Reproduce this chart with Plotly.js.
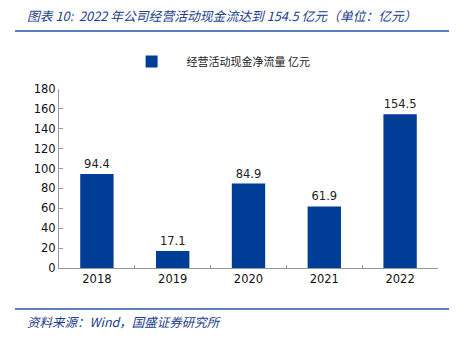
<!DOCTYPE html>
<html><head><meta charset="utf-8">
<script src="https://cdn.plot.ly/plotly-3.0.1.min.js"></script>
<style>html,body{margin:0;padding:0;background:#fff}</style>
</head><body>
<div id="chart" style="width:456px;height:338px"></div>
<script>
var years = ['2018','2019','2020','2021','2022'];
var cashFlow = [94.4, 17.1, 84.9, 61.9, 154.5];
var yTicks = [0,20,40,60,80,100,120,140,160,180];
var seriesName = '经营活动现金净流量 亿元';
var titleText = '图表 10:  2022 年公司经营活动现金流达到 154.5 亿元（单位：亿元）';
var sourceText = '资料来源：Wind，国盛证券研究所';

var blue = '#003D97';
var deco = '#2155A6';
var data = [{
  type: 'bar', x: years, y: cashFlow, name: seriesName,
  marker: {color: blue},
  text: cashFlow.map(function(v){return v.toFixed(1);}),
  textposition: 'outside', cliponaxis: false,
  textfont: {family: 'DejaVu Sans, Verdana, sans-serif', size: 11.5, color: '#222'}
}];
var layout = {
  width: 456, height: 338,
  margin: {l: 59, r: 18, t: 89, b: 70},
  paper_bgcolor: '#fff', plot_bgcolor: '#fff',
  showlegend: true,
  legend: {orientation: 'h', x: 0.152, y: 1.153, xanchor: 'left', yanchor: 'middle',
    font: {family: 'Noto Sans CJK SC', size: 11, color: '#222'}, itemwidth: 60},
  bargap: 0.56,
  xaxis: {
    type: 'category', showline: true, linecolor: '#999', linewidth: 1,
    ticks: 'inside', tickson: 'boundaries', ticklen: 3, tickcolor: '#999',
    tickfont: {family: 'DejaVu Sans, Verdana, sans-serif', size: 11.5, color: '#111'},
    showgrid: false, zeroline: false
  },
  yaxis: {
    range: [0, 180], tickvals: yTicks, ticktext: yTicks.map(String),
    showline: true, linecolor: '#999', linewidth: 1,
    ticks: 'inside', ticklen: 4, tickcolor: '#999',
    tickfont: {family: 'DejaVu Sans, Verdana, sans-serif', size: 11.5, color: '#111'},
    showgrid: false, zeroline: false
  },
  shapes: [
    {type: 'line', xref: 'paper', yref: 'paper', x0: -0.116, x1: 1.029, y0: 1.324, y1: 1.324, line: {color: deco, width: 1.5}},
    {type: 'line', xref: 'paper', yref: 'paper', x0: -0.116, x1: 1.029, y0: -0.229, y1: -0.229, line: {color: deco, width: 1.5}}
  ],
  annotations: [
    {xref: 'paper', yref: 'paper', x: -0.09, y: 1.41, xanchor: 'left', yanchor: 'middle', showarrow: false,
     text: '<i>' + titleText + '</i>', font: {family: 'Noto Sans CJK SC', size: 12.8, color: '#22408A'}},
    {xref: 'paper', yref: 'paper', x: -0.09, y: -0.30, xanchor: 'left', yanchor: 'middle', showarrow: false,
     text: '<i>' + sourceText + '</i>', font: {family: 'Noto Sans CJK SC', size: 12.5, color: '#22408A'}}
  ]
};
Plotly.newPlot('chart', data, layout, {displayModeBar: false, staticPlot: true});
</script>
</body></html>
